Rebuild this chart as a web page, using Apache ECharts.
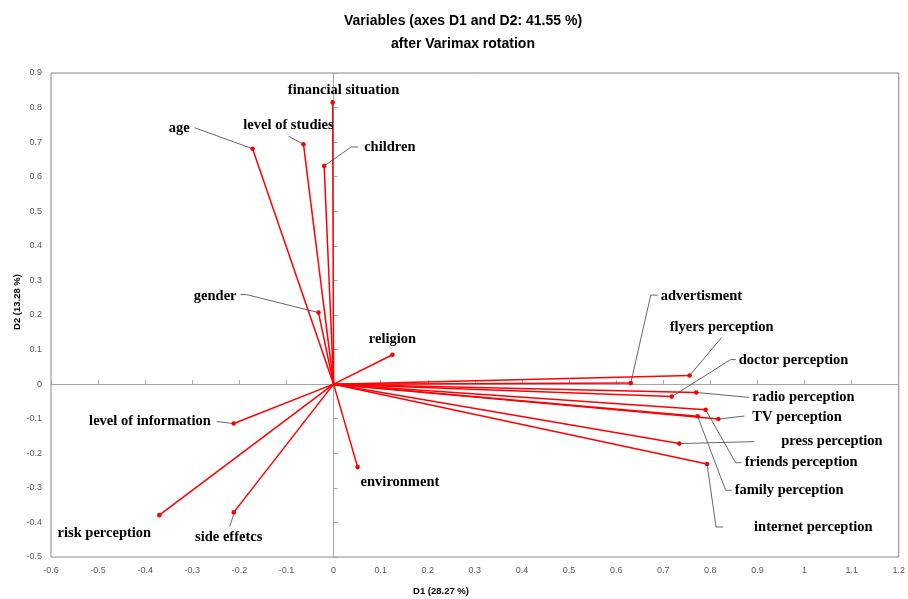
<!DOCTYPE html>
<html>
<head>
<meta charset="utf-8">
<script src="https://cdn.jsdelivr.net/npm/echarts@6/dist/echarts.min.js"></script>
<style>
  html, body { margin: 0; padding: 0; background: #fff; }
  #chart { width: 908px; height: 599px; }
</style>
</head>
<body>
<div id="chart"></div>
<script>
// variables and their loadings on D1 / D2 (after Varimax)
const names = [
  'financial situation', 'age', 'level of studies', 'children', 'gender',
  'religion', 'level of information', 'environment', 'side effetcs', 'risk perception',
  'advertisment', 'flyers perception', 'doctor perception', 'radio perception', 'TV perception',
  'press perception', 'friends perception', 'family perception', 'internet perception'
]
const d1 = [
  -0.002, -0.172, -0.064, -0.020, -0.032,
  0.125, -0.212, 0.051, -0.212, -0.370,
  0.631, 0.756, 0.718, 0.770, 0.817,
  0.734, 0.790, 0.773, 0.793
]
const d2 = [
  0.815, 0.681, 0.694, 0.631, 0.207,
  0.085, -0.114, -0.240, -0.371, -0.379,
  0.003, 0.025, -0.036, -0.024, -0.101,
  -0.172, -0.074, -0.093, -0.231
]
const xTicks = { min: -0.6, max: 1.2, step: 0.1 }
const yTicks = { min: -0.5, max: 0.9, step: 0.1 }

// label placement, pixels relative to the point; lead = leader polyline
const labelPos = [
  { dx: 11, dy: -12, align: 'center' },
  { dx: -63, dy: -20, align: 'right', lead: [[-58, -21], [0, 0]] },
  { dx: -15, dy: -19, align: 'center', lead: [[-15, -8], [0, 0]] },
  { dx: 40, dy: -19, align: 'left', lead: [[34, -19], [27, -19], [0, 0]] },
  { dx: -82, dy: -16, align: 'right', lead: [[-78, -18], [-72, -18], [0, 0]] },
  { dx: 0, dy: -16, align: 'center' },
  { dx: -23, dy: -2, align: 'right', lead: [[-17, -2], [0, 0]] },
  { dx: 3, dy: 15, align: 'left' },
  { dx: -5, dy: 25, align: 'center', lead: [[-4, 14], [0, 2]] },
  { dx: -55, dy: 18, align: 'center' },
  { dx: 30, dy: -87, align: 'left', lead: [[27, -88], [20, -88], [0, 0]] },
  { dx: -20, dy: -48, align: 'left', lead: [[32, -38], [0, 0]] },
  { dx: 67, dy: -36, align: 'left', lead: [[64, -37], [59, -37], [0, 0]] },
  { dx: 56, dy: 5, align: 'left', lead: [[53, 5], [0, 0]] },
  { dx: 34, dy: -2, align: 'left', lead: [[26, -3], [0, 0]] },
  { dx: 102, dy: -2, align: 'left', lead: [[75, -2], [0, 0]] },
  { dx: 39, dy: 53, align: 'left', lead: [[36, 53], [30, 53], [0, 0]] },
  { dx: 37, dy: 74, align: 'left', lead: [[34, 74], [28, 74], [0, 0]] },
  { dx: 47, dy: 63, align: 'left', lead: [[16, 63], [9, 63], [0, 0]] }
]

const RED = '#ff0000'
const GRID_LINE = '#a6a6a6'
const LABEL_FONT = 'bold 14.5px "Liberation Serif", "Times New Roman", serif'

const fmt = v => String(Math.round(v * 10) / 10)

function renderItem(params, api) {
  const i = params.dataIndex
  const o = api.coord([0, 0])
  const p = api.coord([api.value(0), api.value(1)])
  const lp = labelPos[i]
  const children = [
    { type: 'line', shape: { x1: o[0], y1: o[1], x2: p[0], y2: p[1] }, style: { stroke: RED, lineWidth: 1.5 } },
    { type: 'circle', shape: { cx: p[0], cy: p[1], r: 2.3 }, style: { fill: RED } },
  ]
  if (lp.lead) {
    children.push({
      type: 'polyline',
      shape: { points: lp.lead.map(q => [p[0] + q[0], p[1] + q[1]]) },
      style: { stroke: '#404040', lineWidth: 0.8, fill: null },
    })
  }
  children.push({
    type: 'text',
    x: p[0] + lp.dx, y: p[1] + lp.dy,
    style: {
      text: names[i], font: LABEL_FONT, fill: '#000',
      align: lp.align, textAlign: lp.align,
      verticalAlign: 'middle', textVerticalAlign: 'middle',
    },
  })
  return { type: 'group', children }
}

const tickLabel = { color: '#595959', fontSize: 9, fontFamily: 'Liberation Sans', formatter: fmt, margin: 9 }

const labelAxis = (t, extra) => Object.assign({
  type: 'value', min: t.min, max: t.max, interval: t.step,
  axisLine: { show: false }, axisTick: { show: false }, splitLine: { show: false },
  axisLabel: tickLabel,
}, extra)

const zeroAxis = (t, extra) => Object.assign({
  type: 'value', min: t.min, max: t.max, interval: t.step,
  axisLine: { show: true, onZero: true, lineStyle: { color: GRID_LINE, width: 1 } },
  axisTick: { show: true, inside: true, length: 4, lineStyle: { color: GRID_LINE } },
  axisLabel: { show: false }, splitLine: { show: false },
}, extra)

const chart = echarts.init(document.getElementById('chart'), null, { renderer: 'canvas' })
chart.setOption({
  backgroundColor: '#fff',
  animation: false,
  title: {
    text: 'Variables (axes D1 and D2: 41.55 %)\nafter Varimax rotation',
    left: 458, top: 5, textAlign: 'center',
    textStyle: { fontFamily: 'Liberation Sans', fontWeight: 'bold', fontSize: 14, color: '#000', lineHeight: 23 },
  },
  grid: { left: 51, right: 3, top: 73, bottom: 42, show: true, borderColor: '#868686', borderWidth: 1, containLabel: false },
  xAxis: [
    labelAxis(xTicks, { position: 'bottom' }),
    zeroAxis(xTicks, { position: 'bottom' }),
  ],
  yAxis: [
    labelAxis(yTicks, { position: 'left' }),
    zeroAxis(yTicks, { position: 'left' }),
  ],
  graphic: [
    { type: 'text', x: 441, y: 591, style: { text: 'D1 (28.27 %)', font: 'bold 9.5px "Liberation Sans"', fill: '#000', align: 'center', verticalAlign: 'middle' } },
    { type: 'text', x: 17, y: 302, rotation: Math.PI / 2, style: { text: 'D2 (13.28 %)', font: 'bold 9.5px "Liberation Sans"', fill: '#000', align: 'center', verticalAlign: 'middle' } },
  ],
  series: [{
    type: 'custom',
    xAxisIndex: 0, yAxisIndex: 0,
    renderItem,
    clip: false,
    data: d1.map((v, i) => [v, d2[i]]),
  }],
})
</script>
</body>
</html>
